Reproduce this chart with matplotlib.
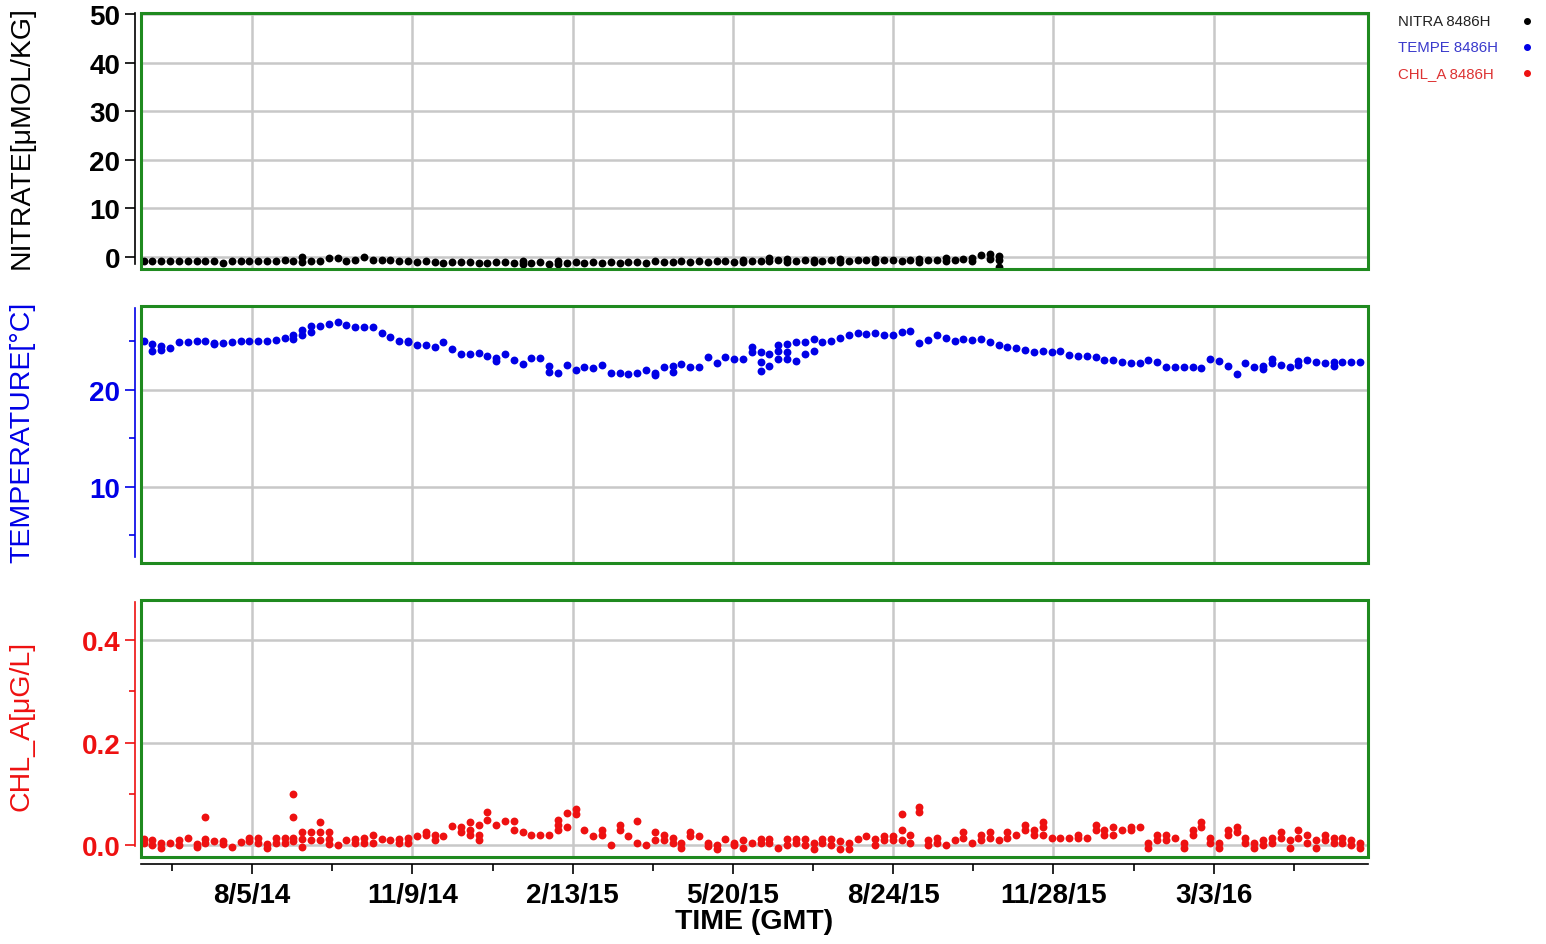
import matplotlib
matplotlib.use("Agg")
import matplotlib.pyplot as plt
from matplotlib.patches import Rectangle
from matplotlib.lines import Line2D
import numpy as np
import pandas as pd

plt.rcParams['font.family'] = ['Liberation Sans', 'DejaVu Sans']

# ---------------- data (one entry per profile; lists = several samples) -------------
START = "2014-06-01"
STEP_DAYS = 5.28

NITRATE = [
    -0.8, -0.8, -0.85, -0.8, -0.8, -0.85, -0.8, -0.9, -0.8, -1.3,
    -0.8, -0.8, -0.75, -0.8, -0.85, -0.8, -0.7, -0.8, [-0.1, -1.0], -0.8,
    -0.8, -0.2, -0.2, -0.8, -0.7, -0.1, -0.6, -0.6, -0.7, -0.8,
    -0.9, -1.0, -0.9, -1.1, -1.2, -1.0, -1.1, -1.0, -1.2, -1.3,
    -1.1, -1.0, -1.2, [-0.8, -1.4], -1.3, -1.0, -1.4, [-0.9, -1.5], -1.2, -1.1,
    -1.3, -1.0, -1.2, -1.1, -1.3, -1.0, -1.1, -1.2, -0.9, -1.0,
    -1.1, -0.9, -1.0, -0.8, -1.0, -0.9, -0.8, -1.0, [-0.7, -1.1], -0.8,
    -0.9, [-0.2, -0.8], -0.6, [-0.5, -1.0], -0.8, -0.7, [-0.6, -1.1], -0.8, -0.7, [-0.5, -1.0],
    -0.8, -0.6, -0.7, [-0.5, -1.0], -0.7, -0.6, -0.8, -0.6, [-0.4, -1.0], -0.7,
    -0.6, [-0.3, -0.9], -0.7, -0.5, [-0.2, -0.8], 0.3, [0.6, -0.5], [0.2, -0.6, -2.0],
]

TEMPERATURE = [
    25.0, [24.7, 24.0], [24.5, 24.1], 24.3, 24.9, 24.9, 25.0, 25.05, [24.85, 24.7], 24.8,
    24.9, 25.05, 25.05, 25.05, 25.1, 25.2, 25.4, [25.7, 25.3], [26.2, 25.7], [26.6, 26.0],
    26.55, 26.8, 27.05, 26.7, 26.45, 26.45, 26.45, 25.9, 25.5, 25.1,
    [25.1, 24.9], 24.6, 24.6, 24.4, 24.9, 24.2, 23.7, 23.7, 23.8, 23.55,
    [23.25, 23.0], 23.7, 23.1, 22.7, 23.3, 23.3, [22.5, 21.9], 21.8, 22.6, 22.1,
    22.4, 22.3, 22.6, 21.7, 21.8, 21.65, 21.8, 22.05, [21.8, 21.5], 22.4,
    [22.45, 21.85], 22.7, 22.4, 22.4, 23.35, 22.8, 23.35, 23.2, 23.2, [24.4, 23.95],
    [23.9, 22.9, 22.0], [23.7, 22.5], [24.6, 24.05, 23.2], [24.75, 23.9, 23.2], [24.9, 23.0],
    [24.9, 23.7], [25.25, 24.05], 24.9, 25.1, 25.4,
    25.7, 25.9, 25.8, 25.9, 25.7, 25.7, 25.95, 26.1, 24.8, 25.2,
    25.7, 25.35, 25.1, 25.25, 25.15, 25.25, 24.9, 24.6, 24.45, 24.3,
    24.1, 23.9, 24.0, 23.9, 24.0, 23.65, 23.55, 23.55, 23.35, 23.1,
    23.1, 22.9, 22.75, 22.8, 23.1, 22.85, 22.4, 22.4, 22.4, 22.4,
    22.3, 23.2, 23.0, 22.5, 21.6, 22.8, 22.4, [22.45, 22.15], [23.2, 22.8], 22.6,
    22.4, [22.95, 22.6], 23.1, 22.9, 22.8, [22.85, 22.5], 22.9, 22.9, 22.9,
]

CHL_A = [
    [0.012, 0.004], [0.01, 0.0], [0.005, -0.005], 0.005, [0.01, 0.0],
    0.015, [0.003, -0.003], [0.055, 0.012, 0.005], 0.008, [0.008, 0.002],
    -0.003, 0.007, [0.015, 0.008], [0.015, 0.005], [0.002, -0.006],
    [0.015, 0.005], [0.015, 0.005], [0.10, 0.055, 0.015, 0.008], [0.025, 0.012, -0.003], [0.025, 0.01],
    [0.045, 0.025, 0.01], [0.025, 0.012, 0.003], 0.0, 0.01, [0.012, 0.005],
    [0.015, 0.005], [0.02, 0.005], 0.013, 0.01,
    [0.012, 0.005], [0.015, 0.005], 0.018, [0.025, 0.02], [0.02, 0.01],
    0.018, 0.038, [0.035, 0.025], [0.045, 0.03, 0.02], [0.04, 0.02, 0.01],
    [0.064, 0.05], 0.04, 0.047, [0.047, 0.03], 0.025,
    0.02, 0.02, 0.02, [0.05, 0.04, 0.03], [0.063, 0.035],
    [0.07, 0.06], 0.03, 0.018, [0.03, 0.02], 0.0,
    [0.04, 0.03], 0.018, [0.047, 0.005], 0.0, [0.025, 0.01],
    [0.02, 0.01], [0.015, 0.005], [0.005, -0.005], [0.025, 0.018], 0.018,
    [0.005, -0.002], [0.0, -0.008], 0.012, [0.005, 0.0], [0.01, -0.005],
    0.005, [0.012, 0.005], [0.012, 0.005], -0.005, [0.012, 0.0],
    [0.012, 0.005], [0.012, 0.0], [0.005, -0.008], [0.012, 0.005], [0.012, 0.0],
    [0.008, -0.008], [0.005, -0.008], 0.012, 0.018, [0.012, 0.0],
    [0.018, 0.01], [0.018, 0.01],
    [0.06, 0.03, 0.01], [0.02, 0.005], [0.075, 0.065], [0.01, 0.0], [0.015, 0.005],
    0.0, 0.01, [0.025, 0.015], 0.005, [0.02, 0.01],
    [0.025, 0.015], 0.01, [0.025, 0.015], 0.02, [0.04, 0.03],
    [0.03, 0.02], [0.045, 0.035, 0.02], 0.015, 0.015, 0.015,
    [0.02, 0.015], 0.015, [0.04, 0.03], [0.03, 0.02], [0.035, 0.02],
    0.03, [0.035, 0.03], 0.035, [0.005, -0.005], [0.02, 0.01],
    [0.02, 0.01], 0.015, [0.005, -0.005], [0.03, 0.02], [0.045, 0.035],
    [0.015, 0.005], [0.005, -0.005], [0.03, 0.02], [0.035, 0.025], [0.015, 0.005],
    [0.005, -0.005], [0.01, 0.0], [0.015, 0.005], [0.025, 0.015], [0.01, -0.005],
    [0.03, 0.015], [0.02, 0.005], [0.01, -0.005], [0.02, 0.01], [0.015, 0.005],
    [0.015, 0.005], [0.01, 0.0], [0.005, -0.005],
]

XTICK_DATES = ["2014-08-05", "2014-11-09", "2015-02-13", "2015-05-20",
               "2015-08-24", "2015-11-28", "2016-03-03"]
XTICK_LABELS = ["8/5/14", "11/9/14", "2/13/15", "5/20/15", "8/24/15", "11/28/15", "3/3/16"]
XMINOR_DATES = ["2014-06-18", "2014-09-22", "2014-12-27", "2015-04-02", "2015-07-07",
                "2015-10-11", "2016-01-15", "2016-04-20"]
XLIM = ("2014-05-30 10:00", "2016-06-03 10:00")

NITRATE_TICKS = [0, 10, 20, 30, 40, 50]
NITRATE_LABELS = ["0", "10", "20", "30", "40", "50"]
TEMP_TICKS = [10, 20]
TEMP_LABELS = ["10", "20"]
TEMP_MINOR = [5, 15, 25]
CHL_TICKS = [0.0, 0.2, 0.4]
CHL_LABELS = ["0.0", "0.2", "0.4"]
CHL_MINOR = [0.1, 0.3]

LEGEND_LABELS = ["NITRA 8486H", "TEMPE 8486H", "CHL_A 8486H"]

# ---------------- helpers -------------------------------------------------------------
t0 = pd.Timestamp(START)
step = pd.Timedelta(days=STEP_DAYS)


def expand(series):
    xs, ys = [], []
    for i, v in enumerate(series):
        for val in np.atleast_1d(v):
            xs.append(t0 + i * step)
            ys.append(val)
    return pd.to_datetime(xs), np.array(ys)


W, H = 1546, 945
fig = plt.figure(figsize=(W / 100, H / 100), dpi=100)
fig.patch.set_facecolor("white")

L = 141 / W
WID = (1368 - 141) / W
boxes = [(14, 270), (307, 564), (601, 858)]
axes = [fig.add_axes([L, 1 - b / H, WID, (b - t) / H]) for t, b in boxes]

C_BLACK = "#000000"
C_BLUE = "#0000e6"
C_RED = "#ee1111"
C_GREEN = "#1f8a1f"
C_GRID = "#c8c8c8"

specs = [
    (NITRATE, C_BLACK, (-2.5, 50.3), NITRATE_TICKS, NITRATE_LABELS, None, (-1.45, 50.2)),
    (TEMPERATURE, C_BLUE, (2.16, 28.66), TEMP_TICKS, TEMP_LABELS, TEMP_MINOR, (2.8, 28.45)),
    (CHL_A, C_RED, (-0.023, 0.478), CHL_TICKS, CHL_LABELS, CHL_MINOR, (-0.002, 0.474)),
]

xlim = [pd.Timestamp(XLIM[0]), pd.Timestamp(XLIM[1])]
xmaj = pd.to_datetime(XTICK_DATES)
xmin = pd.to_datetime(XMINOR_DATES)

# spines first (repositioning a spine rebuilds the tick objects)
for ax, spec in zip(axes, specs):
    col = spec[1]
    for s in ["top", "right", "bottom"]:
        ax.spines[s].set_visible(False)
    ax.spines["left"].set_position(("outward", 4))
    ax.spines["left"].set_color(col)
    ax.spines["left"].set_linewidth(1.2)

ax3 = axes[2]
ax3.spines["bottom"].set_visible(True)
ax3.spines["bottom"].set_position(("outward", 5))
ax3.spines["bottom"].set_color("black")
ax3.spines["bottom"].set_linewidth(1.2)

for ax, (series, col, ylim, yt, ylab, ymin, bounds) in zip(axes, specs):
    xs, ys = expand(series)
    ax.scatter(xs, ys, s=32, color=col, linewidths=0, zorder=3)
    ax.set_xlim(xlim)
    ax.set_ylim(ylim)
    ax.spines["left"].set_bounds(*bounds)
    ax.set_xticks(xmaj)
    ax.set_xticks(xmin, minor=True)
    ax.set_yticks(yt, ylab)
    if ymin:
        ax.set_yticks(ymin, minor=True)
    ax.set_axisbelow(True)
    ax.grid(True, which="major", color=C_GRID, lw=1.8)
    ax.tick_params(axis="y", which="major", direction="out", length=7, width=1.2,
                   colors=col, labelsize=20, pad=4)
    ax.tick_params(axis="y", which="minor", direction="out", length=4, width=1.2, colors=col)
    ax.add_patch(Rectangle((0, 0), 1, 1, transform=ax.transAxes, fill=False,
                           ec=C_GREEN, lw=2.2, zorder=5, clip_on=False))

for ax in axes[:2]:
    ax.tick_params(axis="x", which="both", length=0, labelbottom=False)

ax3.tick_params(axis="x", which="major", direction="out", length=7, width=1.2,
                labelsize=20, pad=6)
ax3.tick_params(axis="x", which="minor", direction="out", length=5, width=1.2)
ax3.set_xticks(xmaj, XTICK_LABELS)
ax3.set_xlabel("TIME (GMT)", fontsize=20.5, fontweight="bold", labelpad=0)

# bold tick labels, applied last
for ax in axes:
    for lbl in ax.get_yticklabels() + ax.get_xticklabels():
        lbl.set_fontweight("bold")

ylabels = [("NITRATE[\u03bcMOL/KG]", C_BLACK, 138),
           ("TEMPERATURE[\u00b0C]", C_BLUE, 432),
           ("CHL_A[\u03bcG/L]", C_RED, 726)]
for txt, col, yc in ylabels:
    fig.text(22 / W, 1 - yc / H, txt, rotation=90, ha="center", va="center",
             fontsize=20.5, color=col)

leg_cols = ["#222222", "#3a3acc", "#dd3333"]
mk_cols = [C_BLACK, C_BLUE, C_RED]
for i, (lab, tc, mc) in enumerate(zip(LEGEND_LABELS, leg_cols, mk_cols)):
    yc = 1 - (22 + 26 * i) / H
    fig.text(1398 / W, yc, lab, ha="left", va="center", fontsize=10.8, color=tc)
    fig.add_artist(Line2D([1527 / W], [yc], marker="o", ms=4, color=mc, lw=0,
                          transform=fig.transFigure))

fig.savefig("out.png", dpi=100, facecolor="white")
